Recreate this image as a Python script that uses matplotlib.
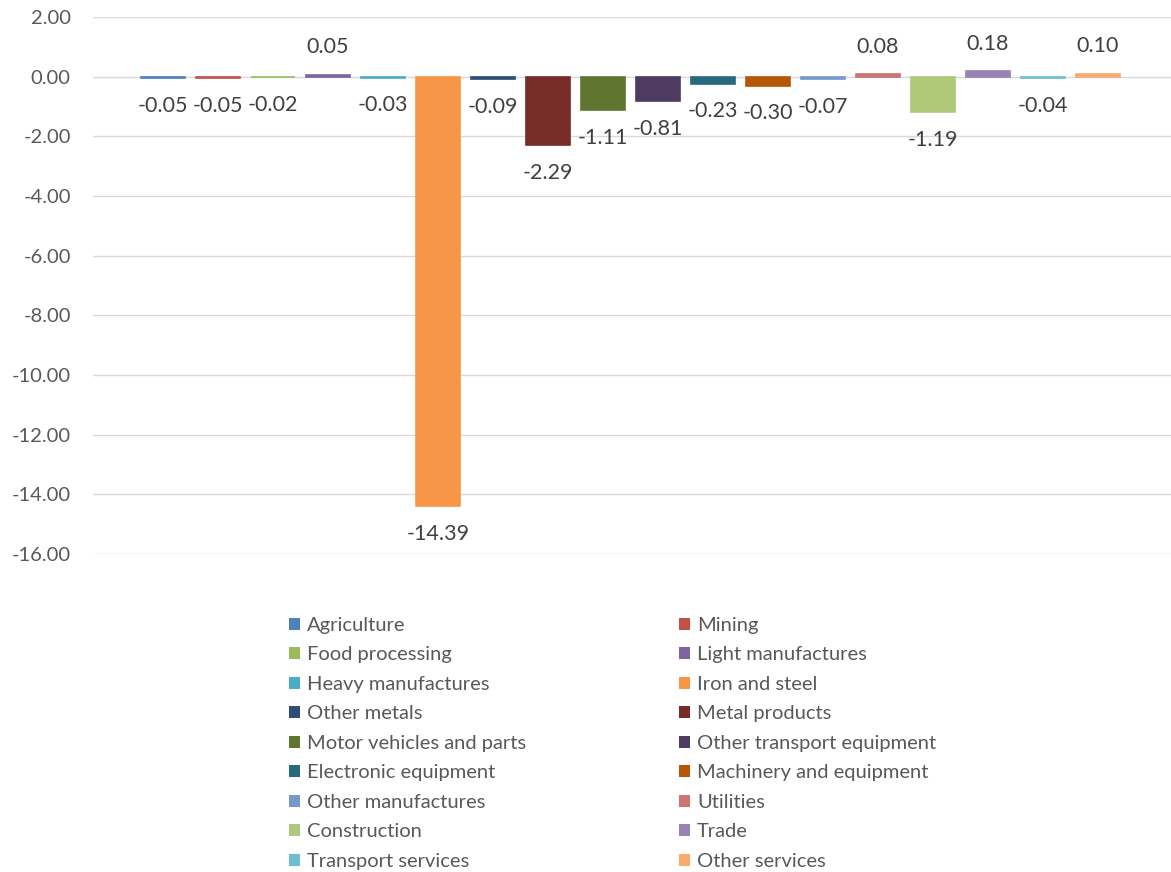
import matplotlib
matplotlib.use("Agg")
from matplotlib import pyplot as plt
from matplotlib.patches import Patch

plt.rcParams["font.family"] = ["Lato", "DejaVu Sans"]

# Данные
sectors = ["Agriculture", "Mining", "Food processing", "Light manufactures",
           "Heavy manufactures", "Iron and steel", "Other metals", "Metal products",
           "Motor vehicles and parts", "Other transport equipment",
           "Electronic equipment", "Machinery and equipment", "Other manufactures",
           "Utilities", "Construction", "Trade", "Transport services", "Other services"]
values = [-0.05, -0.05, -0.02, 0.05, -0.03, -14.39, -0.09, -2.29, -1.11, -0.81,
          -0.23, -0.30, -0.07, 0.08, -1.19, 0.18, -0.04, 0.10]
colors = ["#4F81BD", "#C0504D", "#9BBB59", "#8064A2", "#4BACC6", "#F79646",
          "#2C4D75", "#772C2A", "#5F7530", "#4D3B62", "#276A7C", "#B65708",
          "#729ACA", "#CD7371", "#AFC97A", "#9983B5", "#6FBDD1", "#F9AB6B"]
yticks = [2, 0, -2, -4, -6, -8, -10, -12, -14, -16]

W, H = 1171, 872
fig = plt.figure(figsize=(W / 100, H / 100), dpi=100)
ax = fig.add_axes([93 / W, 1 - 554 / H, 1 - 93 / W, (554 - 17) / H])
ax.set_axisbelow(True)

for i, (v, c) in enumerate(zip(values, colors)):
    ax.bar(i, v, width=0.8, color=c, edgecolor=c, linewidth=1.2, zorder=3)
    off = 20 if v > 0 else -20
    ax.annotate(f"{v:.2f}", (i, v), xytext=(0, off), textcoords="offset points",
                ha="center", va="center", fontsize=15.5, color="#404040")

ax.set_xlim(-1.27, 18.33)
ax.set_ylim(-16, 2)
ax.set_yticks(yticks)
ax.set_yticklabels([f"{t:.2f}" for t in yticks])
ax.tick_params(axis="y", length=0, pad=16, labelsize=14.5, labelcolor="#595959")
ax.set_xticks([])
ax.grid(axis="y", color="#D9D9D9", linewidth=1, zorder=0)
for s in ax.spines.values():
    s.set_visible(False)

# Легенда в две колонки
handles = [Patch(facecolor=c, label=s) for s, c in zip(sectors, colors)]
for col, x in enumerate([289, 679]):
    fig.legend(handles=handles[col::2], loc="upper left",
               bbox_to_anchor=(x / W, 1 - 617 / H), frameon=False,
               fontsize=14.5, labelcolor="#595959", handlelength=0.55,
               handleheight=0.55, handletextpad=0.35, labelspacing=0.62,
               borderaxespad=0, borderpad=0)

fig.savefig("out.png", dpi=100)
